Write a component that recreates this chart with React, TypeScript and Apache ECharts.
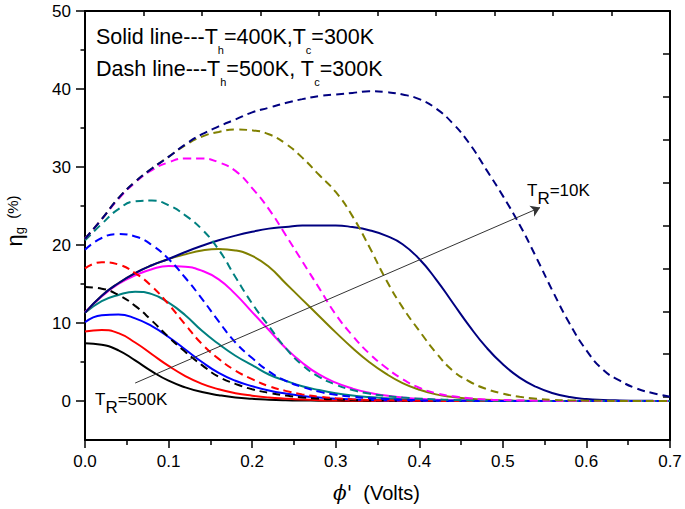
import React, { useEffect, useRef } from 'react';
import * as echarts from 'echarts';

// phi' (Volts) sample positions
const phi = [0, 0.02, 0.04, 0.06, 0.08, 0.1, 0.12, 0.14, 0.16, 0.18, 0.2, 0.22, 0.24, 0.26, 0.28, 0.3, 0.32, 0.34, 0.36, 0.38, 0.4, 0.42, 0.44, 0.46, 0.48, 0.5, 0.52, 0.54, 0.56, 0.58, 0.6, 0.62, 0.64, 0.66, 0.68, 0.7];

// Solid lines: Th = 400K, Tc = 300K
const solidBlack = [7.4, 7.2, 6.5, 5.2, 3.8, 2.6, 1.75, 1.15, 0.75, 0.45, 0.28, 0.17, 0.1, 0.06, 0.04, 0.02, 0.01, 0.01, 0, 0, 0, 0, 0, 0, 0, 0, 0, 0, 0, 0, 0, 0, 0, 0, 0, 0];
const solidRed = [8.9, 9.1, 8.7, 7.5, 6.0, 4.5, 3.2, 2.2, 1.5, 1.0, 0.68, 0.45, 0.3, 0.18, 0.1, 0.06, 0.04, 0.02, 0.01, 0, 0, 0, 0, 0, 0, 0, 0, 0, 0, 0, 0, 0, 0, 0, 0, 0];
const solidBlue = [10.1, 11.0, 11.1, 10.6, 9.6, 8.2, 6.6, 5.0, 3.6, 2.6, 1.9, 1.35, 0.95, 0.65, 0.45, 0.3, 0.2, 0.13, 0.08, 0.05, 0.03, 0.02, 0.01, 0, 0, 0, 0, 0, 0, 0, 0, 0, 0, 0, 0, 0];
const solidTeal = [11.3, 12.8, 13.6, 14.0, 13.7, 12.6, 11.0, 9.0, 7.3, 5.8, 4.6, 3.4, 2.6, 1.9, 1.4, 1.0, 0.7, 0.5, 0.35, 0.24, 0.16, 0.1, 0.06, 0.04, 0.02, 0.01, 0, 0, 0, 0, 0, 0, 0, 0, 0, 0];
const solidMagenta = [11.4, 13.4, 15.0, 16.1, 16.9, 17.3, 17.2, 16.7, 15.6, 13.7, 11.4, 9.1, 6.8, 4.9, 3.4, 2.35, 1.6, 1.05, 0.7, 0.45, 0.28, 0.17, 0.1, 0.06, 0.03, 0.02, 0.01, 0, 0, 0, 0, 0, 0, 0, 0, 0];
const solidOlive = [11.3, 13.5, 15.1, 16.4, 17.4, 18.2, 18.8, 19.3, 19.5, 19.3, 18.6, 17.2, 15.1, 13.0, 10.9, 8.8, 6.8, 5.0, 3.5, 2.3, 1.45, 0.85, 0.5, 0.28, 0.15, 0.08, 0.04, 0.02, 0.01, 0, 0, 0, 0, 0, 0, 0];
const solidNavy = [11.3, 13.5, 15.1, 16.4, 17.4, 18.2, 19.1, 19.9, 20.6, 21.2, 21.7, 22.1, 22.3, 22.5, 22.5, 22.5, 22.3, 21.9, 21.2, 20.1, 18.2, 15.6, 12.6, 9.6, 6.9, 4.7, 3.0, 1.8, 1.0, 0.5, 0.25, 0.13, 0.07, 0.04, 0.02, 0.01];

// Dash lines: Th = 500K, Tc = 300K
const dashBlack = [14.6, 14.4, 13.6, 12.2, 10.3, 8.2, 6.3, 4.6, 3.1, 2.2, 1.5, 1.05, 0.7, 0.45, 0.3, 0.2, 0.12, 0.08, 0.05, 0.03, 0.02, 0.01, 0, 0, 0, 0, 0, 0, 0, 0, 0, 0, 0, 0, 0, 0];
const dashRed = [17.0, 17.8, 17.5, 16.4, 14.7, 12.4, 9.8, 7.3, 5.4, 3.9, 2.8, 1.9, 1.3, 0.85, 0.55, 0.35, 0.22, 0.14, 0.09, 0.05, 0.03, 0.02, 0.01, 0, 0, 0, 0, 0, 0, 0, 0, 0, 0, 0, 0, 0];
const dashBlue = [19.4, 20.9, 21.4, 21.1, 20.0, 18.2, 15.8, 13.1, 10.2, 7.5, 5.5, 3.8, 2.6, 1.8, 1.2, 0.8, 0.55, 0.37, 0.25, 0.16, 0.1, 0.06, 0.04, 0.02, 0.01, 0, 0, 0, 0, 0, 0, 0, 0, 0, 0, 0];
const dashTeal = [20.6, 22.7, 24.6, 25.6, 25.7, 25.1, 23.8, 22.0, 19.4, 15.9, 12.5, 9.6, 6.8, 4.6, 3.1, 2.1, 1.4, 0.95, 0.65, 0.44, 0.3, 0.2, 0.13, 0.08, 0.05, 0.03, 0.02, 0.01, 0, 0, 0, 0, 0, 0, 0, 0];
const dashMagenta = [20.8, 23.3, 25.9, 28.0, 29.6, 30.6, 31.1, 31.1, 30.6, 29.5, 27.3, 24.6, 21.3, 17.9, 14.5, 11.1, 8.4, 6.1, 4.3, 2.8, 1.7, 1.0, 0.6, 0.35, 0.2, 0.12, 0.07, 0.04, 0.02, 0.01, 0, 0, 0, 0, 0, 0];
const dashOlive = [20.8, 23.3, 26.0, 28.1, 29.8, 31.3, 32.8, 33.9, 34.5, 34.8, 34.7, 34.2, 33.0, 31.2, 29.0, 26.8, 23.7, 19.8, 15.6, 12.0, 9.0, 6.2, 3.9, 2.5, 1.55, 0.95, 0.55, 0.3, 0.15, 0.08, 0.04, 0.02, 0.01, 0, 0, 0];
const dashNavy = [20.8, 23.3, 26.0, 28.1, 29.8, 31.3, 32.9, 34.2, 35.2, 36.1, 37.0, 37.6, 38.2, 38.7, 39.1, 39.3, 39.5, 39.7, 39.6, 39.3, 38.7, 37.5, 35.6, 33.0, 29.7, 26.3, 22.6, 18.4, 14.0, 9.9, 6.5, 4.0, 2.6, 1.6, 1.0, 0.55];

const colors = ['#000000', '#FF0000', '#0000FF', '#008080', '#FF00FF', '#808000', '#000080'];
const solidSeries = [solidBlack, solidRed, solidBlue, solidTeal, solidMagenta, solidOlive, solidNavy];
const dashSeries = [dashBlack, dashRed, dashBlue, dashTeal, dashMagenta, dashOlive, dashNavy];

const xTicks = [0, 0.7, 0.1];
const yTicks = [0, 50, 10];
const yRange = [-5, 50];
// arrow annotation from T_R=500K to T_R=10K (data coords)
const arrowFrom = [0.06, 2.3];
const arrowTo = [0.5445, 24.8];

const FONT = '"Liberation Sans", Arial, sans-serif';

export default function App() {
  const ref = useRef<HTMLDivElement>(null);
  useEffect(() => {
    if (!ref.current) return;
    const chart = echarts.init(ref.current, undefined, { renderer: 'svg' });
    const mk = (arr: number[], color: string, dashed: boolean, idx: number) => ({
      type: 'line',
      xAxisIndex: 0,
      yAxisIndex: 0,
      data: phi.map((x, i) => [x, arr[i]]),
      showSymbol: false,
      symbol: 'none',
      smooth: 0.5,
      silent: true,
      lineStyle: { color, width: 2, type: dashed ? [8, 5] : 'solid' },
      z: dashed ? 3 : 2,
      ...(idx === 0 && !dashed
        ? {
            markLine: {
              silent: true,
              symbol: ['none', 'arrow'],
              symbolSize: 9,
              label: { show: false },
              lineStyle: { color: '#333', width: 1, type: 'solid' },
              data: [[{ coord: arrowFrom }, { coord: arrowTo }]],
            },
          }
        : {}),
    });
    const series: any[] = [];
    solidSeries.forEach((s, i) => series.push(mk(s, colors[i], false, i)));
    dashSeries.forEach((s, i) => series.push(mk(s, colors[i], true, i)));

    const axisLine = { show: true, onZero: false, lineStyle: { color: '#000', width: 2 } };
    const tickLine = { color: '#000', width: 1.5 };
    const legendRich = {
      a: { fontSize: 21.5, lineHeight: 21.5, fontFamily: FONT, fill: '#000', verticalAlign: 'top' },
      s: { fontSize: 11, lineHeight: 11, fontFamily: FONT, fill: '#000', verticalAlign: 'top', padding: [18.6, 0, 0, 0] },
    };
    const trRich = {
      a: { fontSize: 17, lineHeight: 17, fontFamily: FONT, fill: '#000', verticalAlign: 'top' },
      r: { fontSize: 17, lineHeight: 17, fontFamily: FONT, fill: '#000', verticalAlign: 'top', padding: [8, 0, 0, 0] },
    };

    chart.setOption({
      animation: false,
      backgroundColor: '#fff',
      grid: [
        { left: 85, right: 15, top: 11, bottom: 69 },
        { left: 85, right: 15, top: 11, bottom: 108 },
      ],
      xAxis: [
        {
          gridIndex: 0, type: 'value', position: 'bottom',
          min: xTicks[0], max: xTicks[1], interval: xTicks[2],
          axisLine,
          axisTick: { show: true, inside: false, length: 8, lineStyle: tickLine },
          minorTick: { show: true, splitNumber: 2, length: 5, lineStyle: tickLine },
          axisLabel: { color: '#000', fontSize: 17, fontFamily: FONT, margin: 13, formatter: (v: number) => v.toFixed(1) },
          splitLine: { show: false },
        },
        {
          gridIndex: 0, type: 'value', position: 'top', min: 0, max: 10, interval: 1,
          axisLine,
          axisTick: { show: true, inside: true, length: 5, lineStyle: tickLine },
          axisLabel: { show: false },
          splitLine: { show: false },
        },
        { gridIndex: 1, type: 'value', show: false, min: xTicks[0], max: xTicks[1] },
      ],
      yAxis: [
        {
          gridIndex: 0, type: 'value', position: 'left', min: yRange[0], max: yRange[1],
          axisLine, axisTick: { show: false }, axisLabel: { show: false }, splitLine: { show: false },
        },
        {
          gridIndex: 0, type: 'value', position: 'right', min: 0, max: 10, interval: 1,
          axisLine,
          axisTick: { show: true, inside: true, length: 7, lineStyle: tickLine },
          axisLabel: { show: false },
          splitLine: { show: false },
        },
        {
          gridIndex: 1, type: 'value', position: 'left', min: yTicks[0], max: yTicks[1], interval: yTicks[2],
          axisLine: { show: false },
          axisTick: { show: true, inside: false, length: 9, lineStyle: tickLine },
          minorTick: { show: true, splitNumber: 2, length: 4.5, lineStyle: tickLine },
          axisLabel: { color: '#000', fontSize: 17, fontFamily: FONT, margin: 14 },
          splitLine: { show: false },
        },
      ],
      series,
      graphic: [
        {
          type: 'text', x: 96, y: 26.1, silent: true,
          style: { text: '{a|Solid line---T}{s|h}{a|=400K,T}{s|c}{a|=300K}', verticalAlign: 'top', rich: legendRich },
        },
        {
          type: 'text', x: 96, y: 58.3, silent: true,
          style: { text: '{a|Dash line---T}{s|h}{a|=500K, T}{s|c}{a|=300K}', verticalAlign: 'top', rich: legendRich },
        },
        {
          type: 'text', x: 95, y: 390.6, silent: true,
          style: { text: '{a|T}{r|R}{a|=500K}', verticalAlign: 'top', rich: trRich },
        },
        {
          type: 'text', x: 527, y: 182.3, silent: true,
          style: { text: '{a|T}{r|R}{a|=10K}', verticalAlign: 'top', rich: trRich },
        },
        {
          type: 'text', x: 333, y: 483, silent: true,
          style: {
            text: "{p|\u03D5'}{a|  (Volts)}",
            verticalAlign: 'top',
            rich: {
              p: { fontSize: 20, lineHeight: 20, fontFamily: '"DejaVu Serif", serif', fontStyle: 'italic', fill: '#000', verticalAlign: 'top' },
              a: { fontSize: 20, lineHeight: 20, fontFamily: FONT, fill: '#000', verticalAlign: 'top' },
            },
          },
        },
        {
          type: 'text', x: 3, y: 221, rotation: Math.PI / 2, silent: true,
          style: {
            text: '{e|\u03B7}{g|g}{p|  (%)}',
            align: 'center',
            verticalAlign: 'top',
            rich: {
              e: { fontSize: 22, lineHeight: 22, fontFamily: FONT, fill: '#000', verticalAlign: 'top' },
              g: { fontSize: 13, lineHeight: 13, fontFamily: FONT, fill: '#000', verticalAlign: 'top', padding: [10, 0, 0, 0] },
              p: { fontSize: 15, lineHeight: 15, fontFamily: FONT, fill: '#000', verticalAlign: 'top', padding: [2, 0, 0, 0] },
            },
          },
        },
      ],
    });
    return () => chart.dispose();
  }, []);
  return <div ref={ref} style={{ position: 'fixed', left: 0, top: 0, width: 685, height: 509, background: '#fff' }} />;
}
